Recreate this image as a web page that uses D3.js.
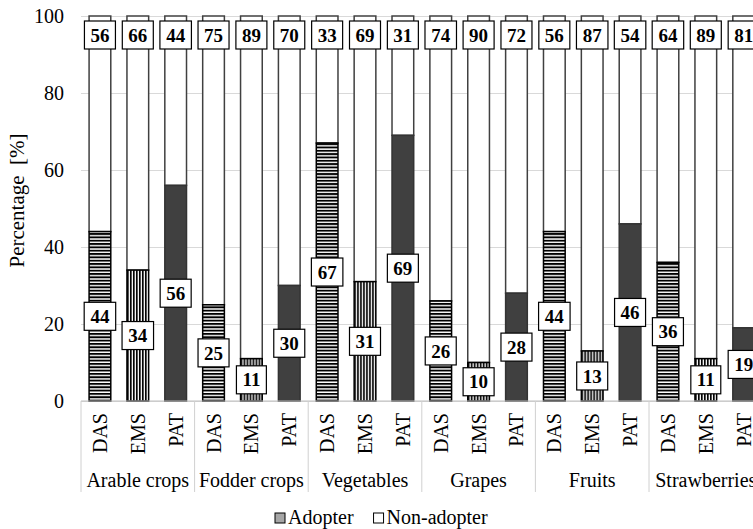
<!DOCTYPE html>
<html>
<head>
<meta charset="utf-8">
<script src="https://cdn.jsdelivr.net/npm/d3@7"></script>
<style>
  body { margin: 0; background: #fff; }
  svg { display: block; font-family: "Liberation Serif", "Times New Roman", serif; }
</style>
</head>
<body>
<div id="chart"></div>
<script>
// crops (outer categories) and the three technologies (inner categories)
const crops = ['Arable crops', 'Fodder crops', 'Vegetables', 'Grapes', 'Fruits', 'Strawberries'];
const techs = ['DAS', 'EMS', 'PAT'];
// share of adopters per crop, in the order DAS, EMS, PAT
const adopter = [
  [44, 34, 56],
  [25, 11, 30],
  [67, 31, 69],
  [26, 10, 28],
  [44, 13, 46],
  [36, 11, 19]
];
// share of non-adopters
const nonAdopter = [
  [56, 66, 44],
  [75, 89, 70],
  [33, 69, 31],
  [74, 90, 72],
  [56, 87, 54],
  [64, 89, 81]
];
const yTicks = [0, 20, 40, 60, 80, 100];
const legendLabels = ['Adopter', 'Non-adopter'];

const W = 753, H = 529;
const plotLeft = 81, plotTop = 16, plotBottom = 401;
const groupW = 113.6;

let svg = d3.select('#chart').append('svg')
  .attr('width', W)
  .attr('height', H);

// fill patterns: horizontal lines for DAS, vertical lines for EMS
let defs = svg.append('defs');
let ph = defs.append('pattern')
  .attr('id', 'hatch-h')
  .attr('patternUnits', 'userSpaceOnUse')
  .attr('width', 6).attr('height', 3.33);
ph.append('rect').attr('width', 6).attr('height', 3.33).attr('fill', '#fff');
ph.append('rect').attr('width', 6).attr('height', 1.9).attr('fill', '#000');

let pv = defs.append('pattern')
  .attr('id', 'hatch-v')
  .attr('patternUnits', 'userSpaceOnUse')
  .attr('width', 3).attr('height', 6);
pv.append('rect').attr('width', 3).attr('height', 6).attr('fill', '#fff');
pv.append('rect').attr('width', 1.7).attr('height', 6).attr('fill', '#000');

const techFill = { DAS: 'url(#hatch-h)', EMS: 'url(#hatch-v)', PAT: '#404040' };

let x0 = d3.scaleBand()
  .domain(crops)
  .range([plotLeft, plotLeft + groupW * crops.length]);

let x1 = d3.scaleBand()
  .domain(techs)
  .range([0, x0.bandwidth()])
  .paddingInner(0.427)
  .paddingOuter(0.2135);

let y = d3.scaleLinear()
  .domain([0, 100])
  .range([plotBottom, plotTop]);

// y axis with gridlines
let yAxis = svg.append('g')
  .attr('transform', `translate(${plotLeft},0)`)
  .call(d3.axisLeft(y)
    .tickValues(yTicks)
    .tickSizeInner(-(W - plotLeft))
    .tickSizeOuter(0)
    .tickPadding(17));
yAxis.select('.domain').remove();
yAxis.selectAll('.tick line').attr('stroke', '#d9d9d9').attr('stroke-width', 1);
yAxis.selectAll('.tick text')
  .attr('font-size', 20)
  .attr('font-family', '"Liberation Serif", serif')
  .attr('fill', '#000');

// y title
svg.append('text')
  .attr('transform', `translate(24,${(plotTop + plotBottom) / 2 - 8}) rotate(-90)`)
  .attr('text-anchor', 'middle')
  .attr('font-size', 21)
  .attr('fill', '#000')
  .text('Percentage\u00a0\u00a0[%]');

// rows of data
let rows = [];
crops.forEach((c, i) => {
  techs.forEach((t, j) => {
    rows.push({ crop: c, tech: t, a: adopter[i][j], n: nonAdopter[i][j] });
  });
});

let bars = svg.append('g').selectAll('g')
  .data(rows)
  .join('g')
  .attr('transform', d => `translate(${x0(d.crop) + x1(d.tech)},0)`);

// non-adopter on top
bars.append('rect')
  .attr('y', d => y(d.a + d.n))
  .attr('height', d => y(d.a) - y(d.a + d.n))
  .attr('width', x1.bandwidth())
  .attr('fill', '#fff')
  .attr('stroke', '#404040')
  .attr('stroke-width', 1.5);

// adopter at the bottom
bars.append('rect')
  .attr('y', d => y(d.a))
  .attr('height', d => y(0) - y(d.a))
  .attr('width', x1.bandwidth())
  .attr('fill', d => techFill[d.tech])
  .attr('stroke', d => d.tech == 'PAT' ? '#333' : '#000')
  .attr('stroke-width', 1.5);

// x axis line
svg.append('line')
  .attr('x1', plotLeft).attr('x2', W)
  .attr('y1', plotBottom).attr('y2', plotBottom)
  .attr('stroke', '#bfbfbf').attr('stroke-width', 1);

// value labels in boxes
function addLabel(g, cy, val) {
  let lab = g.append('g').attr('transform', `translate(${x1.bandwidth() / 2},${cy})`);
  let box = lab.append('rect');
  let txt = lab.append('text')
    .attr('text-anchor', 'middle')
    .attr('dy', '0.35em')
    .attr('font-size', 19)
    .attr('font-weight', 'bold')
    .attr('fill', '#000')
    .text(val);
  let bb = txt.node().getBBox();
  let bw = bb.width + 12, bh = 28;
  box.attr('x', -bw / 2).attr('y', -bh / 2)
    .attr('width', bw).attr('height', bh)
    .attr('fill', '#fff')
    .attr('stroke', '#000')
    .attr('stroke-width', 1.2);
}
bars.each(function (d) {
  let g = d3.select(this);
  addLabel(g, y(d.a / 2), d.a);
  addLabel(g, y(100) + 19, d.n);
});

// tech labels (rotated)
let xl = svg.append('g');
rows.forEach(d => {
  xl.append('text')
    .attr('transform', `translate(${x0(d.crop) + x1(d.tech) + x1.bandwidth() / 2},413) rotate(-90)`)
    .attr('text-anchor', 'end')
    .attr('dy', '0.35em')
    .attr('font-size', 20)
    .attr('fill', '#000')
    .text(d.tech);
});

// crop labels and separators
crops.forEach(c => {
  xl.append('line')
    .attr('x1', x0(c)).attr('x2', x0(c))
    .attr('y1', plotBottom).attr('y2', 492)
    .attr('stroke', '#d0d0d0').attr('stroke-width', 1);
  xl.append('text')
    .attr('x', x0(c) + x0.bandwidth() / 2)
    .attr('y', 487)
    .attr('text-anchor', 'middle')
    .attr('font-size', 20)
    .attr('fill', '#000')
    .text(c);
});

// legend
let legend = svg.append('g').attr('transform', 'translate(275,524)');
let legFill = ['#a6a6a6', '#fff'];
let lx = 0;
legendLabels.forEach((l, i) => {
  let item = legend.append('g').attr('transform', `translate(${lx},0)`);
  item.append('rect')
    .attr('x', 0).attr('y', -11)
    .attr('width', 10).attr('height', 10)
    .attr('fill', legFill[i])
    .attr('stroke', '#000').attr('stroke-width', 1);
  let t = item.append('text')
    .attr('x', 13).attr('y', 0)
    .attr('font-size', 20)
    .attr('fill', '#000')
    .text(l);
  lx += 13 + t.node().getComputedTextLength() + 20;
});
</script>
</body>
</html>
